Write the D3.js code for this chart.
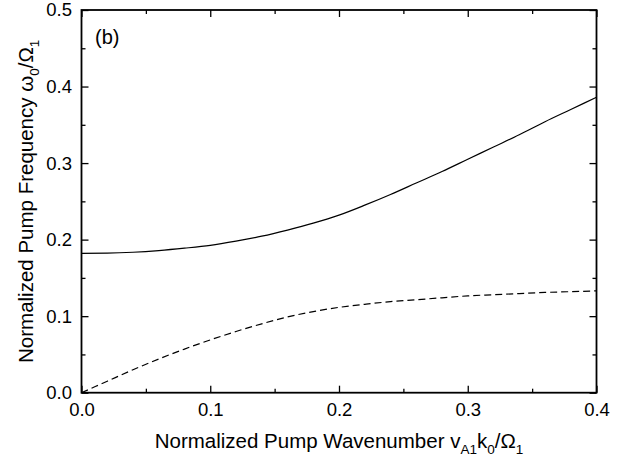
<!DOCTYPE html>
<html><head><meta charset="utf-8">
<script src="https://cdn.jsdelivr.net/npm/d3@7"></script>
<style>body{margin:0;background:#fff}svg{display:block}text{font-family:"Liberation Sans",Arial,sans-serif;fill:#000}</style>
</head><body><svg id="c" width="632" height="461"></svg>
<script>
const xValues = [0.00,0.02,0.04,0.06,0.08,0.10,0.12,0.14,0.16,0.18,0.20,0.22,0.24,0.26,0.28,0.30,0.32,0.34,0.36,0.38,0.40];
const solidValues = [0.182,0.1823,0.1835,0.1857,0.1888,0.1925,0.198,0.2045,0.2125,0.2215,0.232,0.245,0.259,0.274,0.289,0.305,0.321,0.337,0.354,0.370,0.386];
const dashedValues = [0.000,0.015,0.030,0.044,0.057,0.069,0.080,0.090,0.099,0.106,0.1115,0.1155,0.119,0.1215,0.124,0.1265,0.128,0.1295,0.131,0.132,0.133];
const xTicks = [0.0,0.1,0.2,0.3,0.4];
const yTicks = [0.0,0.1,0.2,0.3,0.4,0.5];
const xMinor = [0.05,0.15,0.25,0.35];
const yMinor = [0.05,0.15,0.25,0.35,0.45];

const svg = d3.select("#c");
const L=81.5, R=596.5, T=10, B=392.7;
const x = d3.scaleLinear().domain([0,0.4]).range([L,R]);
const y = d3.scaleLinear().domain([0,0.5]).range([B,T]);

const line = d3.line().x((d,i)=>x(xValues[i])).y(d=>y(d)).curve(d3.curveMonotoneX);
svg.append("path").datum(solidValues).attr("d",line).attr("fill","none").attr("stroke","#000").attr("stroke-width",1.2);
svg.append("path").datum(dashedValues).attr("d",line).attr("fill","none").attr("stroke","#000").attr("stroke-width",1.2).attr("stroke-dasharray","7,4");

const fmt = d3.format(".1f");
svg.append("g").attr("transform",`translate(0,${B})`)
  .call(d3.axisBottom(x).tickValues(xTicks).tickSizeInner(-7).tickSizeOuter(0).tickPadding(10).tickFormat(fmt));
svg.append("g").attr("transform",`translate(0,${B})`)
  .call(d3.axisBottom(x).tickValues(xMinor).tickSizeInner(-4).tickSizeOuter(0).tickFormat(""));
svg.append("g").attr("transform",`translate(0,${T})`)
  .call(d3.axisTop(x).tickValues(xTicks).tickSizeInner(-7).tickSizeOuter(0).tickFormat(""));
svg.append("g").attr("transform",`translate(0,${T})`)
  .call(d3.axisTop(x).tickValues(xMinor).tickSizeInner(-4).tickSizeOuter(0).tickFormat(""));
svg.append("g").attr("transform",`translate(${L},0)`)
  .call(d3.axisLeft(y).tickValues(yTicks).tickSizeInner(-7).tickSizeOuter(0).tickPadding(9.5).tickFormat(fmt));
svg.append("g").attr("transform",`translate(${L},0)`)
  .call(d3.axisLeft(y).tickValues(yMinor).tickSizeInner(-4).tickSizeOuter(0).tickFormat(""));
svg.append("g").attr("transform",`translate(${R},0)`)
  .call(d3.axisRight(y).tickValues(yTicks).tickSizeInner(-7).tickSizeOuter(0).tickFormat(""));
svg.append("g").attr("transform",`translate(${R},0)`)
  .call(d3.axisRight(y).tickValues(yMinor).tickSizeInner(-4).tickSizeOuter(0).tickFormat(""));
svg.selectAll(".domain").remove();
svg.selectAll(".tick line").attr("stroke","#000").attr("stroke-width",1.3);
svg.selectAll(".tick text").attr("font-size",18.5).attr("font-family","Liberation Sans, Arial, sans-serif").attr("fill","#000");

svg.append("rect").attr("x",L).attr("y",T).attr("width",R-L).attr("height",B-T)
  .attr("fill","none").attr("stroke","#000").attr("stroke-width",1.8);

svg.append("text").attr("x",95).attr("y",44).attr("font-size",20).text("(b)");

const xt = svg.append("text").attr("x",(L+R)/2).attr("y",448).attr("text-anchor","middle").attr("font-size",20.5);
xt.append("tspan").text("Normalized Pump Wavenumber v");
xt.append("tspan").attr("dy",6).attr("font-size",13.5).text("A1");
xt.append("tspan").attr("dy",-6).text("k");
xt.append("tspan").attr("dy",6).attr("font-size",13.5).text("0");
xt.append("tspan").attr("dy",-6).text("/Ω");
xt.append("tspan").attr("dy",6).attr("font-size",13.5).text("1");

const yt = svg.append("text").attr("transform",`translate(33,${(T+B)/2}) rotate(-90)`).attr("text-anchor","middle").attr("font-size",20.5);
yt.append("tspan").text("Normalized Pump Frequency ω");
yt.append("tspan").attr("dy",6).attr("font-size",13.5).text("0");
yt.append("tspan").attr("dy",-6).text("/Ω");
yt.append("tspan").attr("dy",6).attr("font-size",13.5).text("1");
</script></body></html>
